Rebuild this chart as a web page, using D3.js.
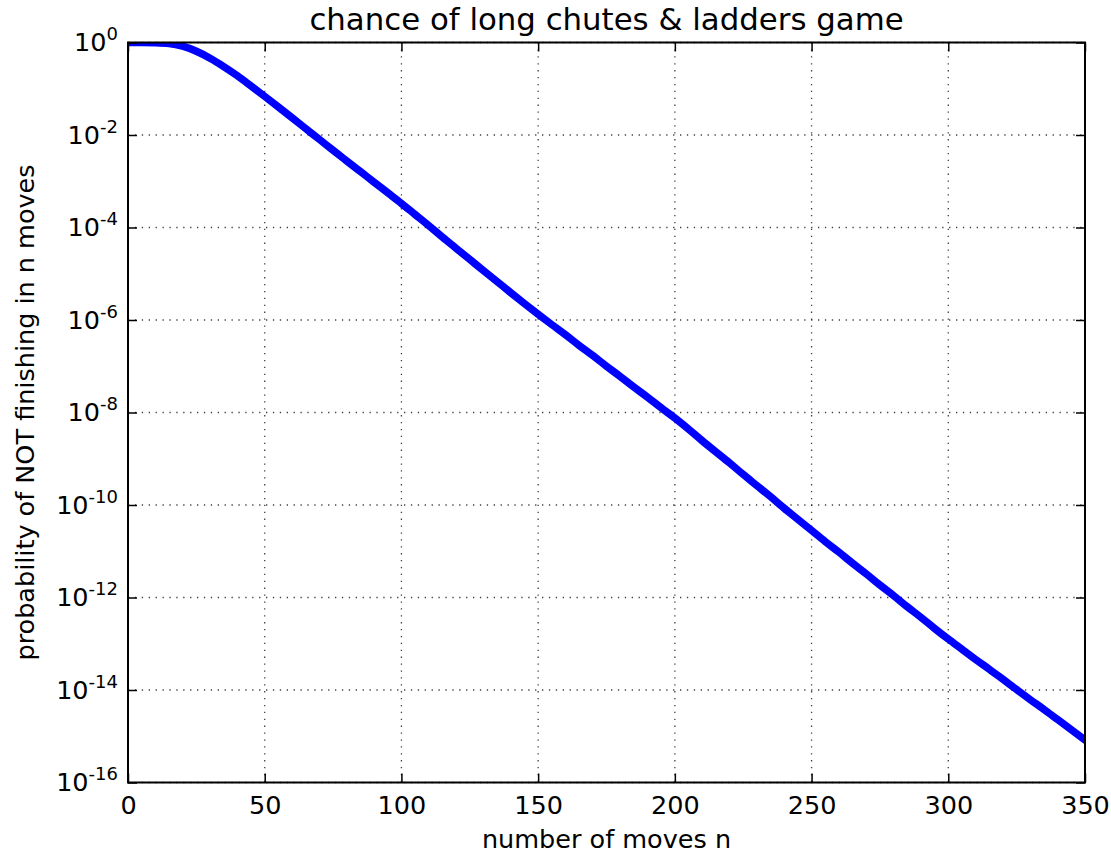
<!DOCTYPE html>
<html><head><meta charset="utf-8">
<script src="https://cdn.jsdelivr.net/npm/d3@7"></script>
<style>
body{margin:0;background:#fff}
text{font-family:"DejaVu Sans","Liberation Sans",sans-serif;fill:#000}
</style>
</head><body>
<svg id="chart" width="1111" height="856"></svg>
<script>
// ---- data ----
const moves = [0,5,10,15,20,25,30,35,40,45,50,55,60,65,70,75,80,85,90,95,100,
  105,110,115,120,125,130,135,140,145,150,155,160,165,170,175,180,185,190,195,200,
  205,210,215,220,225,230,235,240,245,250,255,260,265,270,275,280,285,290,295,300,
  305,310,315,320,325,330,335,340,345,350];
const probNotFinished = [1,1,0.991,0.955,0.832,0.646,0.457,0.302,0.191,0.115,0.0684,
  0.0403,0.0236,0.01374,8.04e-3,4.68e-3,2.75e-3,1.62e-3,9.55e-4,5.62e-4,3.31e-4,
  1.91e-4,1.10e-4,6.17e-5,3.55e-5,2.04e-5,1.17e-5,6.76e-6,3.89e-6,2.26e-6,1.33e-6,
  7.94e-7,4.79e-7,2.82e-7,1.70e-7,1.00e-7,6.03e-8,3.55e-8,2.14e-8,1.26e-8,7.59e-9,
  4.37e-9,2.45e-9,1.41e-9,8.13e-10,4.57e-10,2.63e-10,1.51e-10,8.51e-11,4.90e-11,2.82e-11,
  1.62e-11,9.55e-12,5.50e-12,3.24e-12,1.86e-12,1.10e-12,6.31e-13,3.72e-13,2.14e-13,1.26e-13,
  7.59e-14,4.57e-14,2.82e-14,1.70e-14,1.02e-14,6.17e-15,3.80e-15,2.29e-15,1.38e-15,8.32e-16];
const xTicks = [0,50,100,150,200,250,300,350];
const yTickExponents = [0,-2,-4,-6,-8,-10,-12,-14,-16];
const titleText = "chance of long chutes & ladders game";
const xLabelText = "number of moves n";
const yLabelText = "probability of NOT finishing in n moves";

// ---- layout ----
const L = 128, R = 1085, T = 42.5, B = 782.5;
const svg = d3.select("#chart");
const x = d3.scaleLinear().domain([0,350]).range([L,R]);
const y = d3.scaleLog().domain([1e-16,1]).range([B,T]);
const yTickVals = yTickExponents.map(e => Math.pow(10,e));

// grid
const grid = svg.append("g").attr("class","grid");
grid.selectAll("line.gx").data(xTicks).join("line")
  .attr("x1",d=>x(d)).attr("x2",d=>x(d)).attr("y1",T).attr("y2",B);
grid.selectAll("line.gy").data(yTickVals).join("line")
  .attr("x1",L).attr("x2",R).attr("y1",d=>y(d)).attr("y2",d=>y(d));
grid.selectAll("line").attr("stroke","#000").attr("stroke-width",1.3)
  .attr("stroke-dasharray","1.3,5.6").attr("opacity",0.75);

// curve
svg.append("clipPath").attr("id","clip").append("rect")
  .attr("x",L).attr("y",T).attr("width",R-L).attr("height",B-T);
const pts = moves.map((m,i)=>[m, probNotFinished[i]]);
svg.append("path").datum(pts)
  .attr("clip-path","url(#clip)")
  .attr("fill","none").attr("stroke","#0000ff").attr("stroke-width",7.5)
  .attr("stroke-linejoin","round").attr("stroke-linecap","round")
  .attr("d", d3.line().x(d=>x(d[0])).y(d=>y(d[1])).curve(d3.curveMonotoneX));

// axes
const tickLen = 9;
const fmtNone = () => "";
const gx = svg.append("g").attr("transform",`translate(0,${B})`)
  .call(d3.axisBottom(x).tickValues(xTicks).tickSizeInner(-tickLen).tickSizeOuter(0).tickPadding(0));
gx.selectAll("text").attr("y",31).attr("dy",null).style("font-size","25.5px");
svg.append("g").attr("transform",`translate(0,${T})`)
  .call(d3.axisTop(x).tickValues(xTicks).tickSizeInner(-tickLen).tickSizeOuter(0).tickFormat(fmtNone));
const gy = svg.append("g").attr("transform",`translate(${L},0)`)
  .call(d3.axisLeft(y).tickValues(yTickVals).tickSizeInner(-tickLen).tickSizeOuter(0).tickFormat(fmtNone));
svg.append("g").attr("transform",`translate(${R},0)`)
  .call(d3.axisRight(y).tickValues(yTickVals).tickSizeInner(-tickLen).tickSizeOuter(0).tickFormat(fmtNone));
svg.selectAll(".domain").remove();
svg.selectAll(".tick line").attr("stroke","#000").attr("stroke-width",1.5);

gy.selectAll(".tick").each(function(d,i){
  const t = d3.select(this).select("text");
  t.text(null).attr("x",-10).attr("dy",null).attr("y",8).attr("text-anchor","end")
    .style("font-size","25.5px");
  t.append("tspan").text("10");
  t.append("tspan").attr("dy",-11).style("font-size","18px").text(String(yTickExponents[i]));
});

// frame
svg.append("rect").attr("x",L).attr("y",T).attr("width",R-L).attr("height",B-T)
  .attr("fill","none").attr("stroke","#000").attr("stroke-width",2);

// labels
svg.append("text").attr("x",(L+R)/2).attr("y",30).attr("text-anchor","middle")
  .style("font-size","30.8px").text(titleText);
svg.append("text").attr("x",(L+R)/2).attr("y",848).attr("text-anchor","middle")
  .style("font-size","25.5px").text(xLabelText);
svg.append("text").attr("transform",`translate(34,${(T+B)/2}) rotate(-90)`)
  .attr("text-anchor","middle").style("font-size","25.5px").text(yLabelText);
</script>
</body></html>
